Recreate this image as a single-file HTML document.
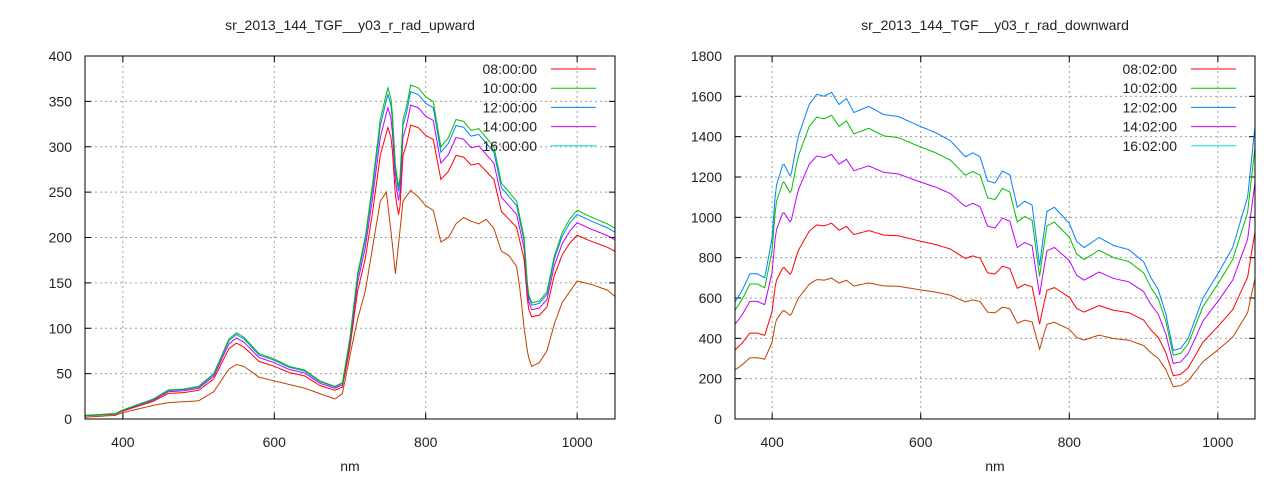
<!DOCTYPE html>
<html><head><meta charset="utf-8"><style>
html,body{margin:0;padding:0;background:#fff;}
svg{display:block;font-family:"Liberation Sans",sans-serif;}
</style></head><body>
<svg id="s" width="1280" height="480" xmlns="http://www.w3.org/2000/svg"></svg>
<script>
const S=document.getElementById('s');let h='';
function interp(pts,x){for(let i=1;i<pts.length;i++){if(x<=pts[i][0]){const a=pts[i-1],b=pts[i];return a[1]+(b[1]-a[1])*(x-a[0])/(b[0]-a[0]);}}return pts[pts.length-1][1];}
function plot(o){
 const {x0,x1,y0,y1,ymax,ystep,title,cx,legend,series}=o;
 const X=v=>x0+(v-350)/700*(x1-x0), Y=v=>y1-v/ymax*(y1-y0);
 // grid
 for(let v=400;v<=1000;v+=200){h+=`<line x1="${X(v)}" y1="${y0}" x2="${X(v)}" y2="${y1}" stroke="#a0a0a0" stroke-dasharray="2,3"/>`;
  h+=`<line x1="${X(v)}" y1="${y1}" x2="${X(v)}" y2="${y1-6}" stroke="#000"/><line x1="${X(v)}" y1="${y0}" x2="${X(v)}" y2="${y0+6}" stroke="#000"/>`;
  h+=`<text x="${X(v)}" y="${y1+28}" font-size="14" text-anchor="middle" fill="#222">${v}</text>`;}
 for(let v=0;v<=ymax;v+=ystep){const y=Y(v);
  if(v>0&&v<ymax)h+=`<line x1="${x0}" y1="${y}" x2="${x1}" y2="${y}" stroke="#a0a0a0" stroke-dasharray="2,3"/>`;
  h+=`<line x1="${x0}" y1="${y}" x2="${x0+6}" y2="${y}" stroke="#000"/><line x1="${x1}" y1="${y}" x2="${x1-6}" y2="${y}" stroke="#000"/>`;
  h+=`<text x="${x0-13}" y="${y+5}" font-size="14" text-anchor="end" fill="#222">${v}</text>`;}
 // series
 for(const s of series){let d='';for(let n=350;n<=1050;n+=2){let v=s.f(n);d+=(n==350?'M':'L')+X(n).toFixed(1)+','+Y(v).toFixed(1);}
  h+=`<path d="${d}" fill="none" stroke="${s.c}" stroke-width="1"/>`;}
 // legend
 const cols=['#ff0000','#00c000','#0080ff','#c000ff','#00e0e0'];
 legend.forEach((t,i)=>{const y=69+i*19.2;h+=`<text x="${o.lt}" y="${y+5}" font-size="14" fill="#222" text-anchor="end">${t}</text><line x1="${o.ll}" y1="${y}" x2="${o.ll+45}" y2="${y}" stroke="${cols[i]}"/>`;});
 h+=`<rect x="${x0}" y="${y0}" width="${x1-x0}" height="${y1-y0}" fill="none" stroke="#000"/>`;
 h+=`<text x="${cx}" y="30" font-size="14" text-anchor="middle" fill="#222">${title}</text>`;
 h+=`<text x="${cx}" y="471" font-size="14" text-anchor="middle" fill="#222">nm</text>`;
}
const up=[[350,4],[390,6],[400,10],[420,16],[440,22],[460,32],[480,33],[500,36],[520,50],[540,88],[550,95],[560,90],[580,72],[600,66],[620,58],[640,54],[660,42],[680,36],[690,40],[700,90],[710,160],[720,200],[730,260],[740,330],[750,365],[755,350],[760,280],[765,250],[770,330],[775,345],[780,368],[790,365],[800,355],[810,350],[820,300],[830,310],[840,330],[850,328],[860,318],[870,320],[880,310],[890,300],[900,260],[910,250],[920,240],[930,200],[935,140],[940,128],[950,130],[960,140],[970,180],[980,205],[990,220],[1000,230],[1020,222],[1040,215],[1050,210]];
const upO=[[350,2],[390,4],[400,7],[420,11],[440,15],[460,18],[500,20],[520,30],[540,55],[550,60],[560,58],[580,46],[600,42],[620,38],[640,34],[660,28],[680,22],[690,28],[700,70],[710,110],[720,140],[730,190],[740,240],[748,250],[755,200],[760,160],[765,200],[770,240],[780,252],[790,245],[800,235],[810,230],[820,195],[830,200],[840,215],[850,222],[860,218],[870,215],[880,220],[890,210],[900,185],[910,180],[920,168],[925,140],[930,100],[935,70],[940,58],[950,62],[960,75],[970,105],[980,128],[990,140],[1000,152],[1020,148],[1040,142],[1050,135]];
const dn=[[350,580],[360,640],[370,720],[380,720],[390,700],[400,900],[405,1150],[415,1270],[425,1200],[435,1400],[450,1560],[460,1610],[470,1600],[480,1620],[490,1560],[500,1590],[510,1520],[530,1550],[550,1510],[570,1500],[600,1450],[620,1420],[640,1380],[660,1300],[670,1320],[680,1300],[690,1180],[700,1170],[710,1230],[720,1210],[730,1050],[740,1080],[750,1060],[760,760],[765,900],[770,1030],[780,1050],[790,1010],[800,970],[810,880],[820,850],[840,900],[860,860],[880,840],[900,780],[910,700],[920,640],[930,520],[940,340],[950,350],[960,400],[970,500],[980,600],[1000,720],[1020,850],[1040,1100],[1050,1450]];
plot({x0:85,x1:615,y0:56,y1:419,ymax:400,ystep:50,cx:350,lt:537,ll:551,title:'sr_2013_144_TGF__y03_r_rad_upward',
 legend:['08:00:00','10:00:00','12:00:00','14:00:00','16:00:00'],
 series:[{c:'#c04000',f:n=>interp(upO,n)},{c:'#ff0000',f:n=>interp(up,n)*0.88},{c:'#c000ff',f:n=>interp(up,n)*0.94},{c:'#0080ff',f:n=>interp(up,n)*0.98},{c:'#00c000',f:n=>interp(up,n)}]});
plot({x0:735,x1:1255,y0:56,y1:419,ymax:1800,ystep:200,cx:995,lt:1177,ll:1191,title:'sr_2013_144_TGF__y03_r_rad_downward',
 legend:['08:02:00','10:02:00','12:02:00','14:02:00','16:02:00'],
 series:[{c:'#c04000',f:n=>interp(dn,n)*(0.42+0.06*(n-350)/700)},{c:'#ff0000',f:n=>interp(dn,n)*(0.59+0.05*(n-350)/700)},{c:'#c000ff',f:n=>interp(dn,n)*0.81},{c:'#00c000',f:n=>interp(dn,n)*0.93},{c:'#0080ff',f:n=>interp(dn,n)}]});
S.innerHTML=h;
</script>
</body></html>
